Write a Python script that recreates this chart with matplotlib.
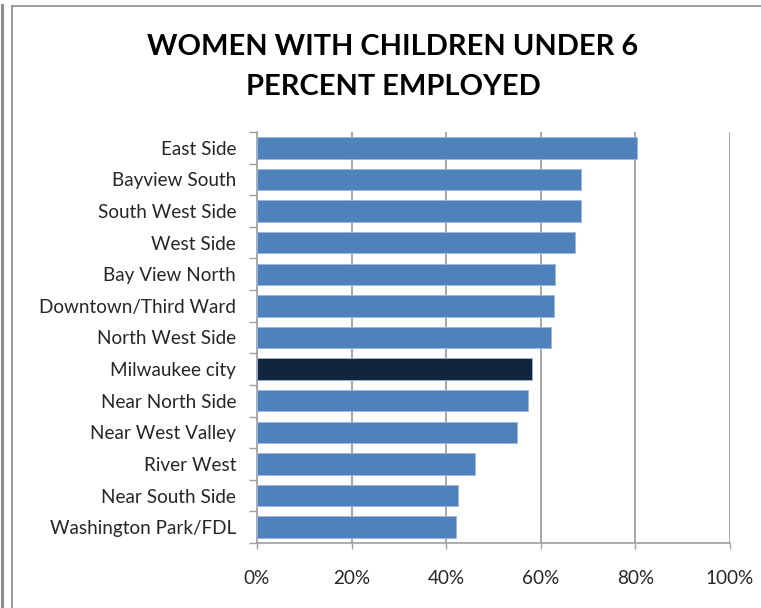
import matplotlib
matplotlib.use("Agg")
import matplotlib.pyplot as plt
from matplotlib.lines import Line2D
from matplotlib.ticker import FixedLocator

# data (percent employed)
neighborhoods = [
    "East Side", "Bayview South", "South West Side", "West Side",
    "Bay View North", "Downtown/Third Ward", "North West Side",
    "Milwaukee city", "Near North Side", "Near West Valley",
    "River West", "Near South Side", "Washington Park/FDL",
]
pct_employed = [80.4, 68.4, 68.4, 67.3, 63.0, 62.7, 62.2,
                58.2, 57.2, 54.9, 46.1, 42.5, 42.1]
highlight = "Milwaukee city"
x_ticks = [0, 20, 40, 60, 80, 100]
x_labels = ["0%", "20%", "40%", "60%", "80%", "100%"]
title_lines = ["WOMEN WITH CHILDREN UNDER 6", "PERCENT EMPLOYED"]

BLUE = "#4F81BD"
NAVY = "#11253F"
GRID = "#A0A0A0"
TEXT = "#262626"

plt.rcParams["font.family"] = ["Lato", "DejaVu Sans"]

W, H = 761, 608
fig = plt.figure(figsize=(W / 100, H / 100), dpi=100)
ax = fig.add_axes([257 / W, 1 - 543 / H, 473 / W, 411 / H])

colors = [NAVY if n == highlight else BLUE for n in neighborhoods]
ypos = list(range(len(neighborhoods)))
ax.barh(ypos, pct_employed, height=0.68, color=colors,
        edgecolor="#9DB6DA", linewidth=0.6, zorder=3)

ax.set_xlim(0, 100)
ax.set_ylim(len(neighborhoods) - 0.5, -0.5)

ax.set_xticks(x_ticks)
ax.set_xticklabels(x_labels)
ax.set_yticks(ypos)
ax.set_yticklabels(neighborhoods)
ax.yaxis.set_minor_locator(FixedLocator([i - 0.5 for i in range(len(neighborhoods) + 1)]))

ax.tick_params(axis="y", which="major", length=0, pad=15, labelsize=13.6, labelcolor=TEXT)
ax.tick_params(axis="y", which="minor", length=6, width=1, color=GRID, direction="out")
ax.tick_params(axis="x", which="major", length=4.5, width=1, color=GRID, pad=15,
               labelsize=13.6, labelcolor=TEXT)

ax.grid(axis="x", color=GRID, linewidth=1.3, zorder=0)
for side in ("top", "right"):
    ax.spines[side].set_visible(False)
for side in ("left", "bottom"):
    ax.spines[side].set_color(GRID)
    ax.spines[side].set_linewidth(1.2)

# title, two lines
fig.text(393 / W, 1 - 47 / H, title_lines[0], ha="center", va="center",
         fontsize=20.9, fontweight="bold", color="black")
fig.text(393 / W, 1 - 87 / H, title_lines[1], ha="center", va="center",
         fontsize=20.9, fontweight="bold", color="black")

# chart frame lines
fig.add_artist(Line2D([12 / W, 1], [1 - 5.5 / H] * 2, transform=fig.transFigure,
                      color="#8C8C8C", linewidth=1.2))
fig.add_artist(Line2D([12 / W] * 2, [0, 1 - 5.5 / H], transform=fig.transFigure,
                      color="#8C8C8C", linewidth=1.2))
fig.add_artist(Line2D([2 / W] * 2, [0, 1 - 5 / H], transform=fig.transFigure,
                      color="#8C8C8C", linewidth=2.2))

fig.savefig("out.png", dpi=100)
